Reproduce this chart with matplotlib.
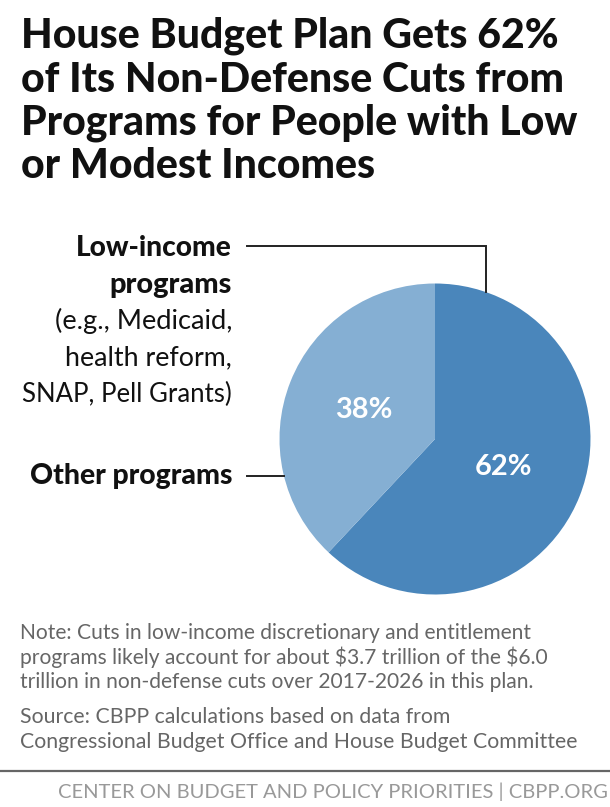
import matplotlib
matplotlib.use("Agg")
import matplotlib.pyplot as plt

# values
shares = [62, 38]
share_labels = ["62%", "38%"]
colors = ["#4a86bb", "#85afd3"]

title_lines = ["House Budget Plan Gets 62%", "of Its Non-Defense Cuts from",
               "Programs for People with Low", "or Modest Incomes"]
note_lines = ["Note: Cuts in low-income discretionary and entitlement",
              "programs likely account for about \\$3.7 trillion of the \\$6.0",
              "trillion in non-defense cuts over 2017-2026 in this plan."]
source_lines = ["Source: CBPP calculations based on data from",
                "Congressional Budget Office and House Budget Committee"]
footer = "CENTER ON BUDGET AND POLICY PRIORITIES | CBPP.ORG"

W, H = 610, 807
PX = 72 / 100  # font px to pt at dpi 100


def y_(py):
    return H - py


fig = plt.figure(figsize=(W / 100, H / 100), dpi=100)
ax = fig.add_axes([0, 0, 1, 1])
ax.set_xlim(0, W)
ax.set_ylim(0, H)
ax.axis("off")

# pie
cx, cy, r = 435, 439, 155.5
pie_ax = fig.add_axes([(cx - r) / W, (H - cy - r) / H, 2 * r / W, 2 * r / H])
pie_ax.pie(shares, colors=colors, startangle=90, counterclock=False, radius=1)
pie_ax.set_xlim(-1, 1)
pie_ax.set_ylim(-1, 1)
ax.set_zorder(2)

# title
for i, line in enumerate(title_lines):
    ax.text(21, y_(36 + i * 43.5), line, family="Lato", weight="black",
            fontsize=41 * PX, color="#111111", va="center", ha="left")

# side labels
side = [("Low-income", 248, "black", 28), ("programs", 285, "black", 29),
        ("(e.g., Medicaid,", 321, "normal", 27.3), ("health reform,", 358, "normal", 26.7),
        ("SNAP, Pell Grants)", 394, "normal", 25.7), ("Other programs", 476, "black", 28.4)]
for text, py, weight, px in side:
    ax.text(232, y_(py), text, family="Lato", weight=weight, fontsize=px * PX,
            color="#111111", ha="right", va="center")

# leader lines
ax.plot([247, 486, 486], [y_(246), y_(246), y_(292)], color="#222222", lw=1.4,
        solid_joinstyle="miter", zorder=1)
ax.plot([247, 284], [y_(476), y_(476)], color="#222222", lw=1.4, zorder=1)

# slice labels
ax.text(504, y_(467), share_labels[0], family="Lato", weight="bold",
        fontsize=29 * PX, color="white", ha="center", va="center")
ax.text(364, y_(410), share_labels[1], family="Lato", weight="bold",
        fontsize=29 * PX, color="white", ha="center", va="center")

# note and source
for i, line in enumerate(note_lines):
    ax.text(20, y_(633 + i * 24.5), line, family="Lato", fontsize=21 * PX,
            color="#666666", ha="left", va="center")
for i, line in enumerate(source_lines):
    ax.text(20, y_(717 + i * 24.5), line, family="Lato", fontsize=21.3 * PX,
            color="#666666", ha="left", va="center")

# footer
ax.plot([0, W], [y_(770.5), y_(770.5)], color="#666666", lw=1.6)
ax.text(608, y_(792), footer, family="Lato", fontsize=20.2 * PX, color="#999999",
        ha="right", va="center")

fig.savefig("out.png", dpi=100)
